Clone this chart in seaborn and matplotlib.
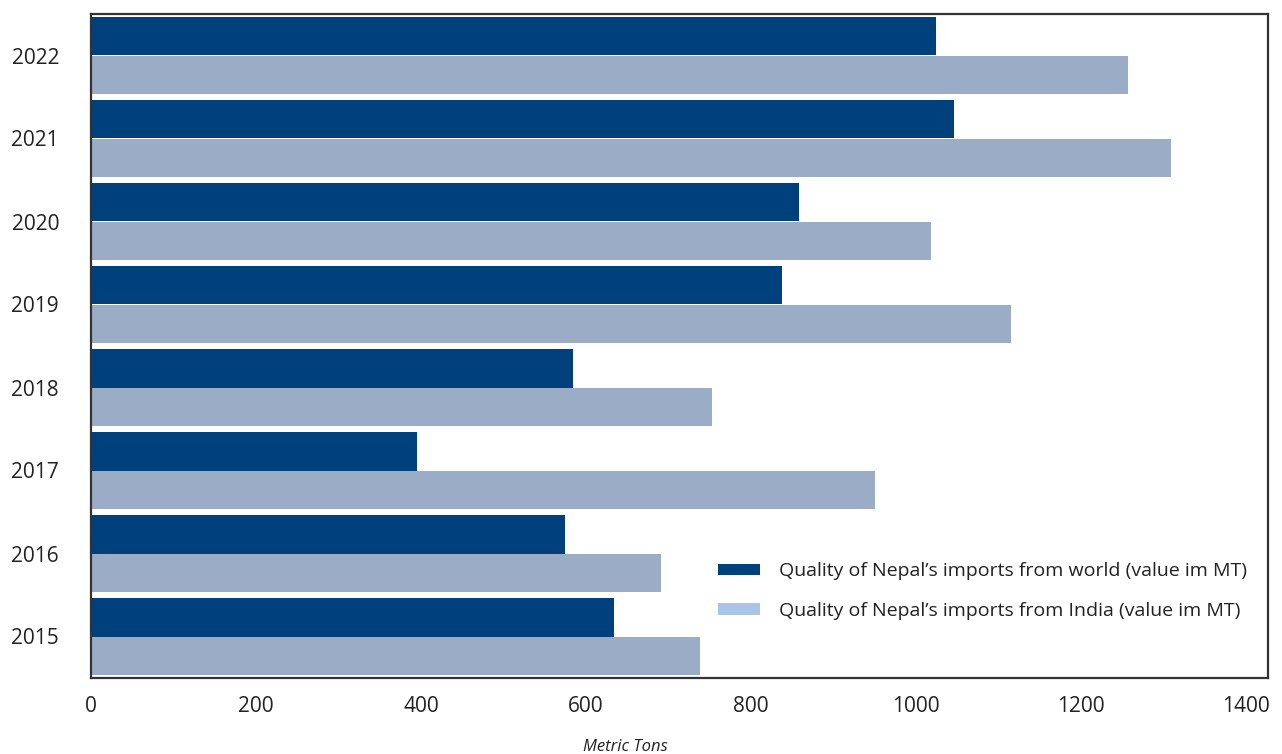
import matplotlib
matplotlib.use("Agg")
import matplotlib.pyplot as plt
from matplotlib.patches import Patch
import seaborn as sns
import pandas as pd

years = ["2022", "2021", "2020", "2019", "2018", "2017", "2016", "2015"]
world = [1025, 1046, 858, 838, 584, 395, 575, 634]
india = [1257, 1309, 1019, 1115, 753, 950, 691, 738]
series = ["Quality of Nepal’s imports from world (value im MT)",
          "Quality of Nepal’s imports from India (value im MT)"]
xticks = [0, 200, 400, 600, 800, 1000, 1200, 1400]

c_world = "#00417D"
c_india = "#9BACC6"
c_india_legend = "#A8C4E6"

df = pd.DataFrame({
    "year": years * 2,
    "value": world + india,
    "series": [series[0]] * len(years) + [series[1]] * len(years),
})

sns.set_theme(style="white")
plt.rcParams["font.family"] = ["Open Sans", "DejaVu Sans"]

fig = plt.figure(figsize=(12.82, 7.54), dpi=100)
ax = fig.add_axes([91 / 1282, 1 - 678 / 754, (1268 - 91) / 1282, (678 - 14) / 754])

sns.barplot(data=df, x="value", y="year", hue="series", order=years,
            hue_order=series, palette=[c_world, c_india], orient="h",
            width=0.93, saturation=1, legend=False, ax=ax, edgecolor="none",
            linewidth=0)

ax.set_xlim(0, 1427)
ax.set_ylim(7.5, -0.5)
ax.set_xticks(xticks)
ax.set_xticklabels([str(t) for t in xticks])
ax.tick_params(axis="x", length=0, pad=13, labelsize=15, colors="#222222")
ax.tick_params(axis="y", length=0, pad=23, labelsize=15, colors="#222222")
ax.set_ylabel("")
ax.set_xlabel("Metric Tons", fontsize=12, fontstyle="italic", color="#222222")
ax.xaxis.set_label_coords((625 - 91) / (1268 - 91), -0.092)

for s in ax.spines.values():
    s.set_visible(True)
    s.set_color("#333333")
    s.set_linewidth(1.6)

handles = [Patch(facecolor=c_world, edgecolor="none"),
           Patch(facecolor=c_india_legend, edgecolor="none")]
fig.legend(handles, series, loc="upper left",
           bbox_to_anchor=(700 / 1282, 1 - 545 / 754), frameon=False,
           fontsize=14, handlelength=2.2, handleheight=0.5,
           handletextpad=0.95, labelspacing=1.1, labelcolor="#222222")

fig.savefig("out.png", dpi=100)
